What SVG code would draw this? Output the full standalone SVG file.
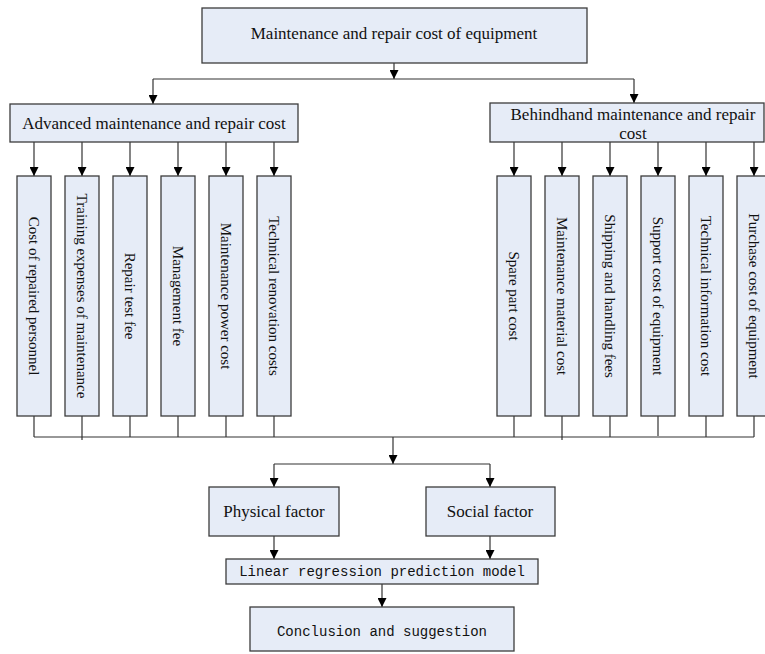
<svg xmlns="http://www.w3.org/2000/svg" width="765" height="654" viewBox="0 0 765 654">
<style>
.box{fill:#e6ecf7;stroke:#3c3c3c;stroke-width:1.3}
.t{font-family:"Liberation Serif","Times New Roman",serif;font-size:17px;fill:#111;text-anchor:middle}
.v{font-family:"Liberation Serif","Times New Roman",serif;font-size:15px;fill:#111;text-anchor:middle;dominant-baseline:central}
.m{font-family:"Liberation Mono","Courier New",monospace;font-size:14px;fill:#111;text-anchor:middle}
.ln{fill:none;stroke:#333;stroke-width:1.2}
.ar{fill:none;stroke:#333;stroke-width:1.2;marker-end:url(#ah)}
</style>
<defs>
<marker id="ah" viewBox="0 0 10 10" refX="10" refY="5" markerWidth="9" markerHeight="9" markerUnits="userSpaceOnUse" orient="auto">
<path d="M0,0 L10,5 L0,10 z" fill="#000"/>
</marker>
</defs>

<g id="connectors">
<line class="ar" x1="394" y1="63" x2="394" y2="79"/>
<polyline class="ln" points="153,79 634,79"/>
<line class="ar" x1="153" y1="79" x2="153" y2="104"/>
<line class="ar" x1="634" y1="79" x2="634" y2="103"/>
<line class="ar" x1="34" y1="142" x2="34" y2="176"/>
<line class="ar" x1="82" y1="142" x2="82" y2="176"/>
<line class="ar" x1="130" y1="142" x2="130" y2="176"/>
<line class="ar" x1="178" y1="142" x2="178" y2="176"/>
<line class="ar" x1="226" y1="142" x2="226" y2="176"/>
<line class="ar" x1="274" y1="142" x2="274" y2="176"/>
<line class="ar" x1="514" y1="142" x2="514" y2="176"/>
<line class="ar" x1="562" y1="142" x2="562" y2="176"/>
<line class="ar" x1="610" y1="142" x2="610" y2="176"/>
<line class="ar" x1="658" y1="142" x2="658" y2="176"/>
<line class="ar" x1="706" y1="142" x2="706" y2="176"/>
<line class="ar" x1="754" y1="142" x2="754" y2="176"/>
<line class="ln" x1="34" y1="416" x2="34" y2="437"/>
<line class="ln" x1="82" y1="416" x2="82" y2="440"/>
<line class="ln" x1="130" y1="416" x2="130" y2="437"/>
<line class="ln" x1="178" y1="416" x2="178" y2="437"/>
<line class="ln" x1="226" y1="416" x2="226" y2="437"/>
<line class="ln" x1="274" y1="416" x2="274" y2="437"/>
<line class="ln" x1="514" y1="416" x2="514" y2="437"/>
<line class="ln" x1="562" y1="416" x2="562" y2="440"/>
<line class="ln" x1="610" y1="416" x2="610" y2="437"/>
<line class="ln" x1="658" y1="416" x2="658" y2="436"/>
<line class="ln" x1="706" y1="416" x2="706" y2="437"/>
<line class="ln" x1="754" y1="416" x2="754" y2="437"/>
<line class="ln" x1="34" y1="437" x2="754" y2="437"/>
<line class="ar" x1="393" y1="437" x2="393" y2="464"/>
<line class="ln" x1="274" y1="464" x2="490" y2="464"/>
<line class="ar" x1="274" y1="464" x2="274" y2="487"/>
<line class="ar" x1="490" y1="464" x2="490" y2="487"/>
<line class="ar" x1="274" y1="536" x2="274" y2="559"/>
<line class="ar" x1="490" y1="536" x2="490" y2="559"/>
<line class="ar" x1="382" y1="584" x2="382" y2="607"/>
</g>

<g id="n-top"><rect class="box" x="202" y="8" width="385" height="55"/><text class="t" x="394" y="39">Maintenance and repair cost of equipment</text></g>
<g id="n-advanced"><rect class="box" x="10" y="104" width="288" height="38"/><text class="t" x="154" y="129">Advanced maintenance and repair cost</text></g>
<g id="n-behind"><rect class="box" x="490" y="103" width="274" height="39"/><text class="t" x="633" y="120">Behindhand maintenance and repair</text><text class="t" x="633" y="139">cost</text></g>

<g id="n-a1"><rect class="box" x="17" y="176" width="34" height="240"/><text class="v" transform="translate(34,296) rotate(90)">Cost of repaired personnel</text></g>
<g id="n-a2"><rect class="box" x="65" y="176" width="34" height="240"/><text class="v" transform="translate(82,296) rotate(90)">Training expenses of maintenance</text></g>
<g id="n-a3"><rect class="box" x="113" y="176" width="34" height="240"/><text class="v" transform="translate(130,296) rotate(90)">Repair test fee</text></g>
<g id="n-a4"><rect class="box" x="161" y="176" width="34" height="240"/><text class="v" transform="translate(178,296) rotate(90)">Management fee</text></g>
<g id="n-a5"><rect class="box" x="209" y="176" width="34" height="240"/><text class="v" transform="translate(226,296) rotate(90)">Maintenance power cost</text></g>
<g id="n-a6"><rect class="box" x="257" y="176" width="34" height="240"/><text class="v" transform="translate(274,296) rotate(90)">Technical renovation costs</text></g>

<g id="n-b1"><rect class="box" x="497" y="176" width="34" height="240"/><text class="v" transform="translate(514,296) rotate(90)">Spare part cost</text></g>
<g id="n-b2"><rect class="box" x="545" y="176" width="34" height="240"/><text class="v" transform="translate(562,296) rotate(90)">Maintenance material cost</text></g>
<g id="n-b3"><rect class="box" x="593" y="176" width="34" height="240"/><text class="v" transform="translate(610,296) rotate(90)">Shipping and handling fees</text></g>
<g id="n-b4"><rect class="box" x="641" y="176" width="34" height="240"/><text class="v" transform="translate(658,296) rotate(90)">Support cost of equipment</text></g>
<g id="n-b5"><rect class="box" x="689" y="176" width="34" height="240"/><text class="v" transform="translate(706,296) rotate(90)">Technical information cost</text></g>
<g id="n-b6"><rect class="box" x="737" y="176" width="34" height="240"/><text class="v" transform="translate(754,296) rotate(90)">Purchase cost of equipment</text></g>

<g id="n-physical"><rect class="box" x="209" y="487" width="130" height="49"/><text class="t" x="274" y="517">Physical factor</text></g>
<g id="n-social"><rect class="box" x="426" y="487" width="129" height="49"/><text class="t" x="490" y="517">Social factor</text></g>
<g id="n-linear"><rect class="box" x="226" y="559" width="312" height="25"/><text class="m" x="382" y="576">Linear regression prediction model</text></g>
<g id="n-conclusion"><rect class="box" x="250" y="607" width="264" height="44"/><text class="m" x="382" y="636">Conclusion and suggestion</text></g>
</svg>
